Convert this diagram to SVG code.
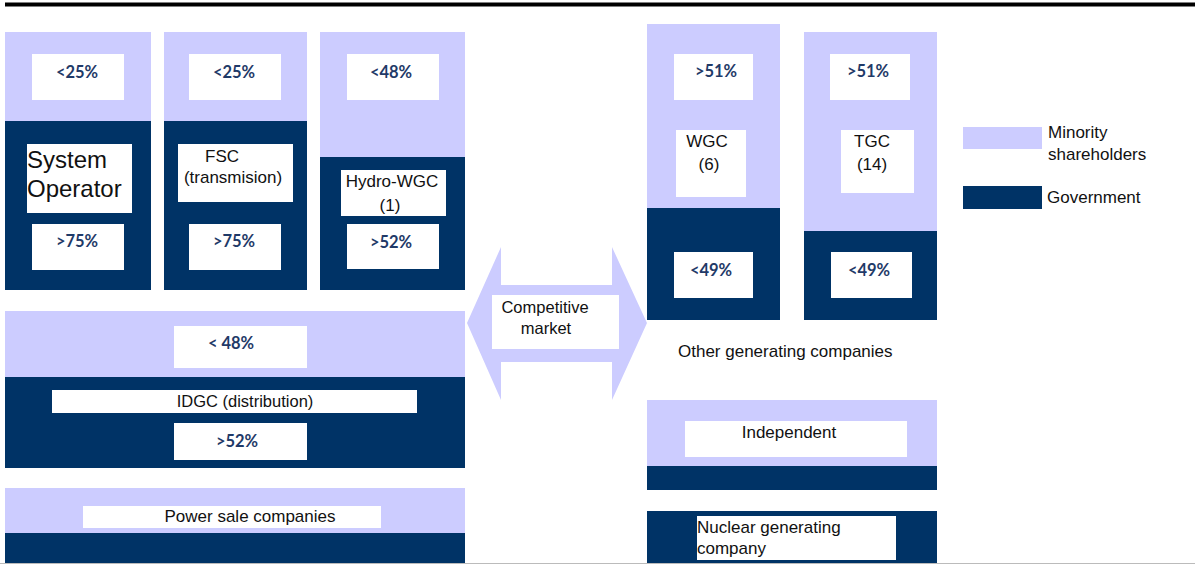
<svg xmlns="http://www.w3.org/2000/svg" width="1195" height="565" viewBox="0 0 1195 565">
<style>
.lt{fill:#ccccff}
.dk{fill:#003366}
.wb{fill:#ffffff}
.t{font-family:"Liberation Sans",Arial,sans-serif;font-size:17px;fill:#111111}
.c{text-anchor:middle}
.p{font-family:Lato,"DejaVu Sans",sans-serif;font-size:16.5px;font-weight:700;fill:#1f3a68;text-anchor:middle}
</style>
<rect x="0" y="0" width="1195" height="565" fill="#ffffff"/>
<rect x="5" y="2.5" width="1190" height="4" fill="#000000"/>
<line x1="0" y1="563.5" x2="1195" y2="563.5" stroke="#bbbbbb" stroke-width="1"/>

<g id="connectors">
<polygon class="lt" points="467,323 501,247 501,285 612,285 612,247 647,323 612,400 612,362 501,362 501,400"/>
</g>

<g id="system-operator">
<rect class="lt" x="5" y="32" width="146" height="89"/>
<rect class="dk" x="5" y="121" width="146" height="169"/>
<rect class="wb" x="32" y="54" width="92" height="46"/>
<text class="p" x="77" y="78">&lt;25%</text>
<rect class="wb" x="27" y="144" width="105" height="69"/>
<text class="t" x="27" y="168" style="font-size:24px">System</text>
<text class="t" x="27" y="197" style="font-size:24px">Operator</text>
<rect class="wb" x="32" y="224" width="92" height="46"/>
<text class="p" x="77" y="247">&gt;75%</text>
</g>

<g id="fsc">
<rect class="lt" x="164" y="32" width="143" height="89"/>
<rect class="dk" x="164" y="121" width="143" height="169"/>
<rect class="wb" x="189" y="54" width="92" height="46"/>
<text class="p" x="234" y="78">&lt;25%</text>
<rect class="wb" x="178" y="144" width="115" height="58"/>
<text class="t c" x="222" y="162">FSC</text>
<text class="t c" x="233" y="183">(transmision)</text>
<rect class="wb" x="189" y="224" width="92" height="46"/>
<text class="p" x="234" y="247">&gt;75%</text>
</g>

<g id="hydro-wgc">
<rect class="lt" x="320" y="32" width="145" height="125"/>
<rect class="dk" x="320" y="157" width="145" height="133"/>
<rect class="wb" x="347" y="54" width="92" height="46"/>
<text class="p" x="391" y="78">&lt;48%</text>
<rect class="wb" x="341" y="170" width="105" height="46"/>
<text class="t c" x="392" y="187">Hydro-WGC</text>
<text class="t c" x="390" y="211">(1)</text>
<rect class="wb" x="347" y="224" width="92" height="45"/>
<text class="p" x="391" y="248">&gt;52%</text>
</g>

<g id="idgc">
<rect class="lt" x="5" y="311" width="460" height="66"/>
<rect class="dk" x="5" y="377" width="460" height="91"/>
<rect class="wb" x="174" y="326" width="133" height="42"/>
<text class="p" x="231" y="349">&lt; 48%</text>
<rect class="wb" x="52" y="390" width="365" height="23"/>
<text class="t c" x="245" y="407" style="font-size:16.5px">IDGC (distribution)</text>
<rect class="wb" x="174" y="423" width="133" height="37"/>
<text class="p" x="237" y="447">&gt;52%</text>
</g>

<g id="power-sale">
<rect class="lt" x="5" y="488" width="460" height="45"/>
<rect class="dk" x="5" y="533" width="460" height="30"/>
<rect class="wb" x="83" y="506" width="298" height="22"/>
<text class="t c" x="250" y="522">Power sale companies</text>
</g>

<g id="competitive-market">
<rect class="wb" x="492" y="295" width="127" height="54"/>
<text class="t c" x="545" y="313" style="font-size:16.5px">Competitive</text>
<text class="t c" x="546" y="334" style="font-size:16.5px">market</text>
</g>

<g id="wgc">
<rect class="lt" x="647" y="24" width="133" height="184"/>
<rect class="dk" x="647" y="208" width="133" height="112"/>
<rect class="wb" x="674" y="54" width="79" height="46"/>
<text class="p" x="716" y="77">&gt;51%</text>
<rect class="wb" x="676" y="130" width="70" height="67"/>
<text class="t c" x="707" y="147">WGC</text>
<text class="t c" x="709" y="170">(6)</text>
<rect class="wb" x="674" y="252" width="79" height="46"/>
<text class="p" x="711" y="276">&lt;49%</text>
</g>

<g id="tgc">
<rect class="lt" x="804" y="32" width="133" height="199"/>
<rect class="dk" x="804" y="231" width="133" height="89"/>
<rect class="wb" x="830" y="54" width="80" height="46"/>
<text class="p" x="868" y="77">&gt;51%</text>
<rect class="wb" x="841" y="130" width="73" height="63"/>
<text class="t c" x="872" y="147">TGC</text>
<text class="t c" x="872" y="170">(14)</text>
<rect class="wb" x="831" y="252" width="81" height="46"/>
<text class="p" x="869" y="276">&lt;49%</text>
</g>

<g id="other-generating">
<text class="t" x="678" y="357">Other generating companies</text>
</g>

<g id="independent">
<rect class="lt" x="647" y="400" width="290" height="66"/>
<rect class="dk" x="647" y="466" width="290" height="24"/>
<rect class="wb" x="685" y="421" width="222" height="36"/>
<text class="t c" x="789" y="438">Independent</text>
</g>

<g id="nuclear">
<rect class="dk" x="647" y="511" width="290" height="52"/>
<rect class="wb" x="697" y="516" width="199" height="44"/>
<text class="t" x="697" y="533">Nuclear generating</text>
<text class="t" x="697" y="554">company</text>
</g>

<g id="legend">
<rect class="lt" x="963" y="127" width="79" height="22"/>
<text class="t" x="1048" y="138">Minority</text>
<text class="t" x="1048" y="160">shareholders</text>
<rect class="dk" x="963" y="186" width="79" height="23"/>
<text class="t" x="1047" y="203">Government</text>
</g>
</svg>
